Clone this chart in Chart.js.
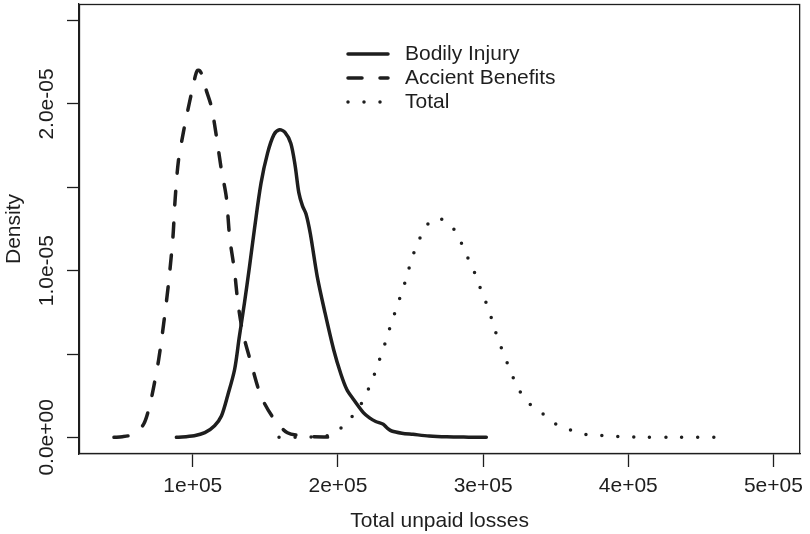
<!DOCTYPE html>
<html><head><meta charset="utf-8">
<script src="https://cdn.jsdelivr.net/npm/chart.js@4/dist/chart.umd.min.js"></script>
<style>html,body{margin:0;padding:0;background:#fff}#wrap{width:810px;height:534px}</style>
</head><body><div id="wrap"><canvas id="c" width="810" height="534"></canvas></div>
<script>
const seriesNames = ['Bodily Injury', 'Accient Benefits', 'Total'];

const bodilyX = [88700,101000,108300,115000,119700,124000,128800,132000,135600,139000,142400,147000,151500,155900,159700,163500,167500,170500,173000,175500,178000,181000,185700,191000,197000,202000,206100,210500,217500,222000,226000,231200,234000,237000,244000,251700,262800,275000,290000,302200];
const bodilyY = [0,0.01e-5,0.028e-5,0.07e-5,0.128e-5,0.25e-5,0.407e-5,0.6e-5,0.807e-5,1.02e-5,1.246e-5,1.525e-5,1.705e-5,1.816e-5,1.845e-5,1.83e-5,1.765e-5,1.63e-5,1.47e-5,1.39e-5,1.34e-5,1.22e-5,0.966e-5,0.75e-5,0.527e-5,0.38e-5,0.287e-5,0.23e-5,0.148e-5,0.115e-5,0.095e-5,0.078e-5,0.055e-5,0.038e-5,0.025e-5,0.018e-5,0.008e-5,0.003e-5,0.001e-5,0];

const accidentX = [45700,51400,56000,61000,66200,70000,73000,76500,79900,83300,86300,87800,90100,93500,96500,99200,101500,103000,104800,106500,109000,112800,116300,119700,123100,125400,128700,131100,134500,140100,147000,156100,165200,176600,190000,204000];
const accidentY = [0,0.004e-5,0.01e-5,0.03e-5,0.08e-5,0.18e-5,0.3e-5,0.467e-5,0.68e-5,0.926e-5,1.2e-5,1.425e-5,1.66e-5,1.83e-5,1.96e-5,2.07e-5,2.16e-5,2.2e-5,2.2e-5,2.17e-5,2.09e-5,1.984e-5,1.804e-5,1.605e-5,1.44e-5,1.2e-5,1.0e-5,0.807e-5,0.627e-5,0.447e-5,0.247e-5,0.108e-5,0.028e-5,0.008e-5,0.002e-5,0];

const totalX = [159400,171000,182000,193600,202700,210500,216900,221800,226400,229900,233400,236900,240500,244000,247500,250400,254600,259200,263000,266900,271000,277500,283500,288100,292700,296900,301200,305000,308200,312100,316300,320800,325800,332800,341700,350800,361100,372700,383300,393900,410000,430000,462600];
const totalY = [0,0,0.003e-5,0.012e-5,0.06e-5,0.133e-5,0.214e-5,0.306e-5,0.408e-5,0.5e-5,0.588e-5,0.69e-5,0.78e-5,0.873e-5,0.965e-5,1.061e-5,1.157e-5,1.245e-5,1.29e-5,1.312e-5,1.31e-5,1.276e-5,1.194e-5,1.102e-5,1.02e-5,0.922e-5,0.827e-5,0.735e-5,0.643e-5,0.547e-5,0.453e-5,0.357e-5,0.269e-5,0.194e-5,0.137e-5,0.076e-5,0.041e-5,0.014e-5,0.01e-5,0.004e-5,0.001e-5,0,0];

const xTickValues = [100000, 200000, 300000, 400000, 500000];
const xTickLabels = ['1e+05', '2e+05', '3e+05', '4e+05', '5e+05'];
const yTickValues = [0, 0.5e-5, 1.0e-5, 1.5e-5, 2.0e-5, 2.5e-5];
const yTickLabels = ['0.0e+00', '', '1.0e-05', '', '2.0e-05', ''];

const INK = '#1e1e1e';
const FONT = 'Liberation Sans, Arial, Helvetica, sans-serif';
const FSIZE = 21;

function pts(xs, ys) { return xs.map((x, i) => ({x: x, y: ys[i]})); }

const styles = [
  {dash: [], cap: 'round'},
  {dash: [14, 18], cap: 'round'},
  {dash: [0, 16], cap: 'round'}
];

const datasets = [pts(bodilyX, bodilyY), pts(accidentX, accidentY), pts(totalX, totalY)].map((d, i) => ({
  label: seriesNames[i],
  data: d,
  borderColor: INK,
  backgroundColor: INK,
  borderWidth: 3.5,
  borderDash: styles[i].dash,
  borderCapStyle: styles[i].cap,
  borderJoinStyle: 'round',
  pointRadius: 0,
  fill: false,
  tension: 0.3
}));

const boxPlugin = {
  id: 'rbox',
  afterDraw(chart) {
    const {ctx, chartArea: a} = chart;
    ctx.save();
    ctx.strokeStyle = INK;
    ctx.lineWidth = 1.3;
    ctx.strokeRect(a.left + 0.5, a.top + 0.5, a.right - a.left - 1, a.bottom - a.top - 1);
    ctx.restore();
  }
};

const legendPlugin = {
  id: 'rlegend',
  afterDraw(chart) {
    const {ctx} = chart;
    const x0 = 348, x1 = 388, tx = 405, y0 = 54, dy = 24;
    ctx.save();
    chart.data.datasets.forEach((ds, i) => {
      const y = y0 + i * dy;
      ctx.strokeStyle = ds.borderColor;
      ctx.lineWidth = ds.borderWidth;
      ctx.lineCap = ds.borderCapStyle;
      ctx.setLineDash(ds.borderDash);
      ctx.beginPath();
      ctx.moveTo(x0, y);
      ctx.lineTo(x1, y);
      ctx.stroke();
      ctx.setLineDash([]);
      ctx.fillStyle = INK;
      ctx.font = FSIZE + 'px ' + FONT;
      ctx.textBaseline = 'middle';
      ctx.textAlign = 'left';
      ctx.fillText(ds.label, tx, y);
    });
    ctx.restore();
  }
};

new Chart(document.getElementById('c'), {
  type: 'line',
  data: {datasets: datasets},
  plugins: [boxPlugin, legendPlugin],
  options: {
    responsive: false,
    animation: false,
    devicePixelRatio: 1,
    layout: {padding: {left: 0, right: 2, top: 4, bottom: 0}},
    plugins: {legend: {display: false}, tooltip: {enabled: false}},
    scales: {
      x: {
        type: 'linear',
        min: 21600, max: 518400,
        afterBuildTicks(s) { s.ticks = xTickValues.map(v => ({value: v})); },
        afterFit(s) { s.height = 80; },
        ticks: {
          autoSkip: false, maxRotation: 0, minRotation: 0, padding: 7, color: INK,
          font: {family: FONT, size: FSIZE},
          callback(v) { const k = xTickValues.indexOf(v); return k >= 0 ? xTickLabels[k] : ''; }
        },
        grid: {drawOnChartArea: false, drawTicks: true, tickLength: 13, color: INK, tickWidth: 1.3},
        border: {display: true, color: INK, width: 1.3},
        title: {display: true, text: 'Total unpaid losses', color: INK, font: {family: FONT, size: FSIZE}, padding: {top: 0, bottom: 0}}
      },
      y: {
        type: 'linear',
        min: -0.1e-5, max: 2.6e-5,
        afterBuildTicks(s) { s.ticks = yTickValues.map(v => ({value: v})); },
        afterFit(s) { s.width = 79; },
        ticks: {
          autoSkip: false, minRotation: 90, maxRotation: 90, crossAlign: 'center', padding: -18, color: INK,
          font: {family: FONT, size: FSIZE},
          callback(v) { const k = yTickValues.indexOf(v); return k >= 0 ? yTickLabels[k] : ''; }
        },
        grid: {drawOnChartArea: false, drawTicks: true, tickLength: 12, color: INK, tickWidth: 1.3},
        border: {display: true, color: INK, width: 1.3},
        title: {display: true, text: 'Density', color: INK, font: {family: FONT, size: FSIZE}, padding: {top: 2, bottom: 0}}
      }
    }
  }
});
</script></body></html>
